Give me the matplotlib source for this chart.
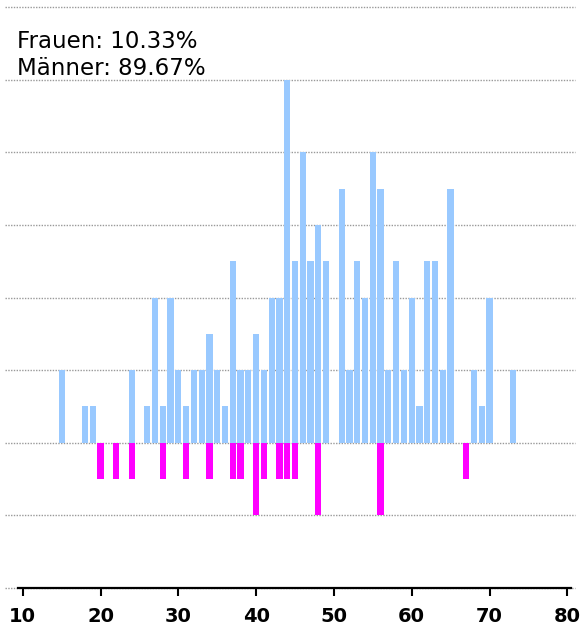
import numpy as np
import matplotlib
matplotlib.use("Agg")
import matplotlib.pyplot as plt

# Altersverteilung der Teilnehmer, getrennt nach Geschlecht
ages_m = [15, 18, 19, 24, 26, 27, 28, 29, 30, 31, 32, 33, 34, 35, 36, 37, 38, 39,
          40, 41, 42, 43, 44, 45, 46, 47, 48, 49, 51, 52, 53, 54, 55, 56, 57, 58,
          59, 60, 61, 62, 63, 64, 65, 68, 69, 70, 73]
count_m = [2, 1, 1, 2, 1, 4, 1, 4, 2, 1, 2, 2, 3, 2, 1, 5, 2, 2,
           3, 2, 4, 4, 10, 5, 8, 5, 6, 5, 7, 2, 5, 4, 8, 7, 2, 5,
           2, 4, 1, 5, 5, 2, 7, 2, 1, 4, 2]
ages_f = [20, 22, 24, 28, 31, 34, 37, 38, 40, 41, 43, 44, 45, 48, 56, 67]
count_f = [1, 1, 1, 1, 1, 1, 1, 1, 2, 1, 1, 1, 1, 2, 2, 1]

xticks = [10, 20, 30, 40, 50, 60, 70, 80]

n_m = sum(count_m)
n_f = sum(count_f)
share_f = 100.0 * n_f / (n_m + n_f)
share_m = 100.0 * n_m / (n_m + n_f)

W, H = 582, 629
fig = plt.figure(figsize=(W / 100, H / 100), dpi=100)
ax = fig.add_axes([5 / W, 1 - 588 / H, 570 / W, 581 / H])

# Männer nach oben, Frauen nach unten
ax.bar(ages_m, count_m, width=0.8, color="#99c9ff", zorder=2)
ax.bar(ages_f, -np.array(count_f), width=0.8, color="#ff00ff", zorder=2)

ax.set_xlim(7.72, 80.99)
ax.set_ylim(-4, 12)

# gepunktete Hilfslinien
for y in range(-4, 13, 2):
    ax.axhline(y, color="#999999", lw=1, ls=(0, (1, 1)), zorder=1, clip_on=False)

for s in ["left", "right", "top"]:
    ax.spines[s].set_visible(False)
ax.spines["bottom"].set_bounds(9.4, 80.47)
ax.spines["bottom"].set_linewidth(1.6)
ax.spines["bottom"].set_zorder(3)

ax.set_yticks([])
ax.set_xticks(xticks)
ax.set_xticklabels([str(t) for t in xticks], fontsize=14, fontweight="bold")
ax.tick_params(axis="x", length=6, width=1.5, pad=8)

fig.text(17 / W, 1 - 48 / H, f"Frauen: {share_f:.2f}%",
         fontsize=16.5, va="baseline", ha="left")
fig.text(17 / W, 1 - 75 / H, f"Männer: {share_m:.2f}%",
         fontsize=16.5, va="baseline", ha="left")

fig.savefig("out.png", dpi=100)
